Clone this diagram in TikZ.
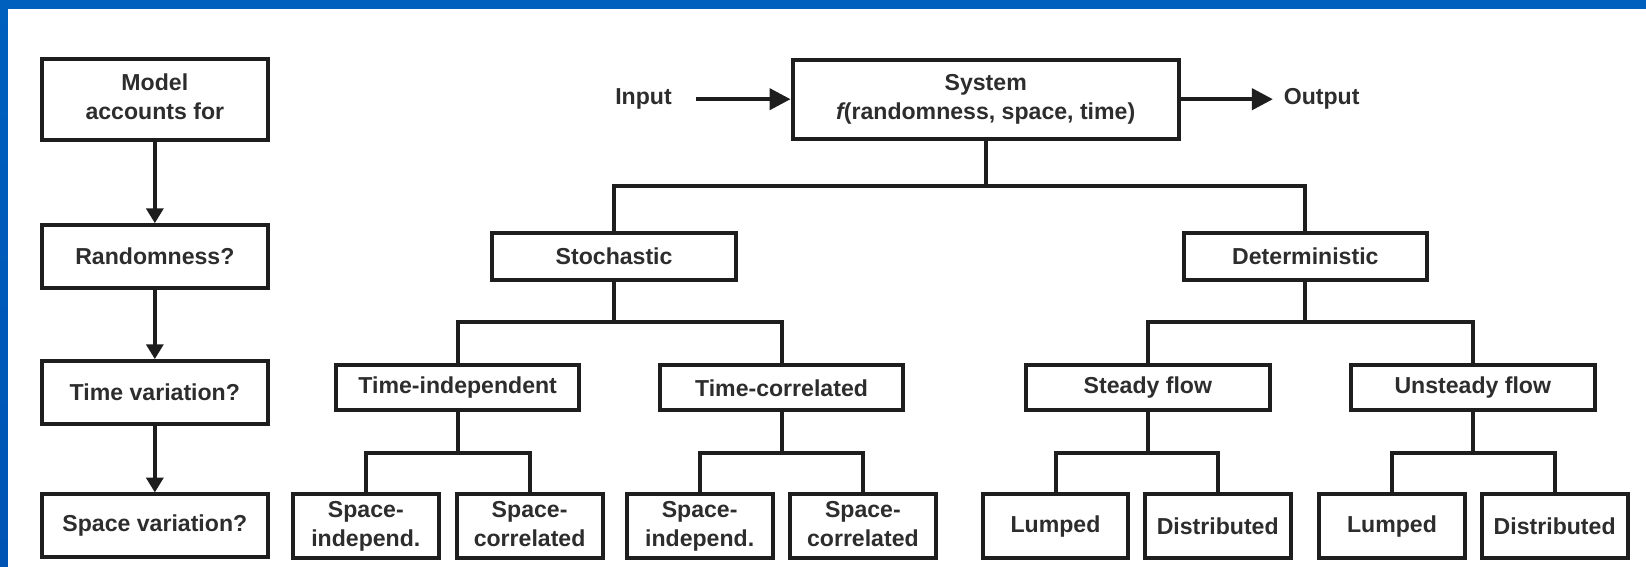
\documentclass[tikz,border=0pt]{standalone}
\usepackage{fontspec}
\setmainfont{Liberation Sans}
\usetikzlibrary{arrows.meta}
\definecolor{bandblue}{RGB}{0,96,190}
\definecolor{bandblue2}{RGB}{0,84,180}
\definecolor{ink}{RGB}{30,30,30}
\definecolor{txt}{RGB}{45,45,45}
\begin{document}
\begin{tikzpicture}[x=0.5pt,y=-0.5pt,
  base/.style={text=txt,font=\fontsize{11}{13.5}\selectfont\bfseries,align=center,inner sep=0pt},
  box/.style={base,draw=ink,line width=1.9pt,fill=white},
  lbox/.style={box,minimum width=107.5pt,minimum height=30pt},
  sbox/.style={box,minimum width=116pt,minimum height=22.5pt},
  mbox/.style={box,minimum width=116pt,minimum height=21.5pt},
  bbox/.style={box,minimum width=69.5pt,minimum height=30.5pt},
  tree/.style={draw=ink,line width=1.9pt,line join=miter},
  arr/.style={draw=ink,line width=1.7pt,-{Triangle[length=7pt,width=8pt]}},
  harr/.style={draw=ink,line width=2pt,-{Triangle[length=10pt,width=10pt]}}
]
\useasboundingbox (0,0) rectangle (1568,540);
\fill[bandblue] (0,0) rectangle (1568,8.6);
\shade[top color=bandblue,bottom color=bandblue2] (0,0) rectangle (7.6,540);

% left column
\node[lbox,minimum height=38.5pt] (model) at (147.5,94.5) {Model\strut\\accounts for\strut};
\node[lbox] (rand) at (147.5,244.5) {Randomness?};
\node[lbox] (timev) at (147.5,374) {Time variation?};
\node[lbox] (spacev) at (147.5,501) {Space variation?};
\draw[arr] (model) -- (rand);
\draw[arr] (rand) -- (timev);
\draw[arr] (timev) -- (spacev);

% system
\node[box,minimum width=184pt,minimum height=37.5pt] (sys) at (939,94.5) {System\strut\\{\itshape f}(randomness, space, time)\strut};
\node[base,minimum width=50pt] (in) at (613,94.5) {Input};
\node[base,minimum width=46pt] (out) at (1259,94.5) {Output};
\draw[harr] (in.east) -- (sys.west);
\draw[harr] (sys.east) -- (out.west);

% level 1
\node[sbox] (stoch) at (585,244.5) {Stochastic};
\node[sbox] (det) at (1243.5,244.5) {Deterministic};
\coordinate (j0) at (sys.south |- 0,177);
\draw[tree] (sys.south) -- (j0);
\draw[tree] (stoch.north) |- (j0) -| (det.north);

% level 2
\node[mbox] (ti) at (436,369.5) {Time-independent};
\node[mbox] (tc) at (744.5,369.5) {Time-correlated};
\node[mbox] (sf) at (1093.5,369.5) {Steady flow};
\node[mbox] (uf) at (1403,369.5) {Unsteady flow};
\coordinate (j1) at (stoch.south |- 0,307);
\coordinate (j2) at (det.south |- 0,307);
\draw[tree] (stoch.south) -- (j1);
\draw[tree] (ti.north) |- (j1) -| (tc.north);
\draw[tree] (det.south) -- (j2);
\draw[tree] (sf.north) |- (j2) -| (uf.north);

% level 3
\node[bbox] (si1) at (348.5,501.5) {Space-\strut\\independ.\strut};
\node[bbox] (sc1) at (504.5,501.5) {Space-\strut\\correlated\strut};
\node[bbox] (si2) at (666.5,501.5) {Space-\strut\\independ.\strut};
\node[bbox] (sc2) at (822,501.5) {Space-\strut\\correlated\strut};
\node[bbox] (l1) at (1005.5,501.5) {Lumped};
\node[bbox] (d1) at (1160,501.5) {Distributed};
\node[bbox] (l2) at (1326,501.5) {Lumped};
\node[bbox] (d2) at (1481,501.5) {Distributed};
\coordinate (k1) at (ti.south |- 0,432);
\coordinate (k2) at (tc.south |- 0,432);
\coordinate (k3) at (sf.south |- 0,432);
\coordinate (k4) at (uf.south |- 0,432);
\draw[tree] (ti.south) -- (k1);
\draw[tree] (si1.north) |- (k1) -| (sc1.north);
\draw[tree] (tc.south) -- (k2);
\draw[tree] (si2.north) |- (k2) -| (sc2.north);
\draw[tree] (sf.south) -- (k3);
\draw[tree] (l1.north) |- (k3) -| (d1.north);
\draw[tree] (uf.south) -- (k4);
\draw[tree] (l2.north) |- (k4) -| (d2.north);
\end{tikzpicture}
\end{document}
